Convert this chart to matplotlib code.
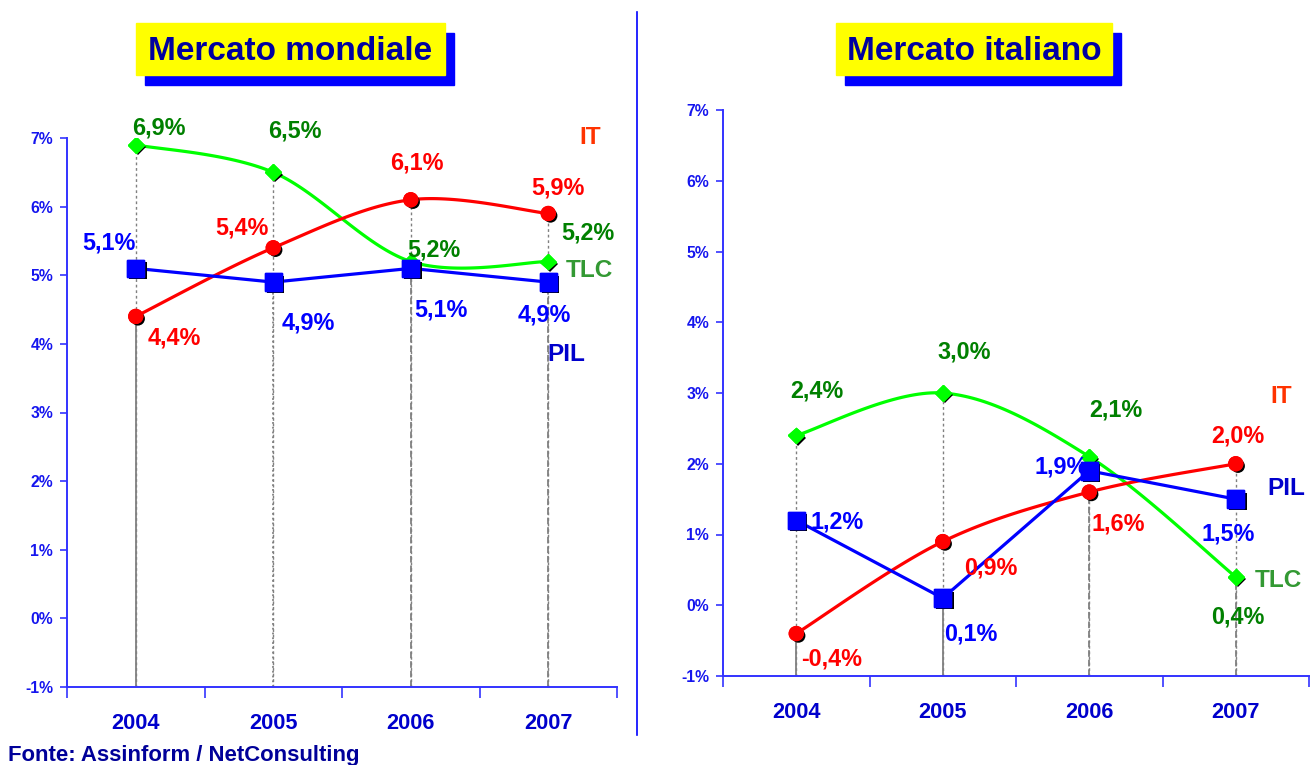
import matplotlib
matplotlib.use("Agg")
import matplotlib.pyplot as plt
import matplotlib.patheffects as pe
from matplotlib.patches import Rectangle
import numpy as np

plt.rcParams["font.family"] = ["Liberation Sans", "DejaVu Sans"]
plt.rcParams["font.weight"] = "bold"

years = ["2004", "2005", "2006", "2007"]

# Mercato mondiale
world_it = [4.4, 5.4, 6.1, 5.9]
world_tlc = [6.9, 6.5, 5.2, 5.2]
world_pil = [5.1, 4.9, 5.1, 4.9]

# Mercato italiano
ita_it = [-0.4, 0.9, 1.6, 2.0]
ita_tlc = [2.4, 3.0, 2.1, 0.4]
ita_pil = [1.2, 0.1, 1.9, 1.5]

C_IT, C_TLC, C_PIL = "#FF0000", "#00FF00", "#0000FF"
L_IT, L_TLC, L_PIL = "#FF0000", "#008000", "#0000FF"
N_IT, N_TLC, N_PIL = "#FF3300", "#339933", "#0000CC"
AX_BLUE = "#3333FF"
TXT_BLUE = "#0000CC"


def smooth(y, n=40):
    # Catmull-Rom curve through the points (like Excel smoothed lines)
    x = np.arange(len(y), dtype=float)
    p = np.column_stack([x, np.asarray(y, float)])
    p = np.vstack([p[0], p, p[-1]])
    t = np.linspace(0, 1, n)[:, None]
    segs = []
    for i in range(1, len(p) - 2):
        p0, p1, p2, p3 = p[i - 1], p[i], p[i + 1], p[i + 2]
        segs.append(0.5 * (2 * p1 + (-p0 + p2) * t
                           + (2 * p0 - 5 * p1 + 4 * p2 - p3) * t ** 2
                           + (-p0 + 3 * p1 - 3 * p2 + p3) * t ** 3))
    s = np.vstack(segs)
    return s[:, 0], s[:, 1]


shadow = [pe.withSimplePatchShadow(offset=(1.6, -1.6), shadow_rgbFace="black", alpha=1.0), pe.Normal()]


def draw_panel(ax, it, tlc, pil, low_styles, offs, names):
    x = np.arange(4)
    ax.set_xlim(-0.5, 3.5)
    ax.set_ylim(-1, 7)
    # drop lines
    for i in range(4):
        vals = [it[i], tlc[i], pil[i]]
        ax.vlines(i, -1, max(vals), colors="#808080", lw=1, linestyles=(0, (2, 2)), zorder=1)
        ax.vlines(i, -1, min(vals), colors="#808080", lw=1.3, linestyles=low_styles[i], zorder=1)
    sx, sy = smooth(tlc)
    ax.plot(sx, sy, color=C_TLC, lw=2.3, zorder=3)
    sx, sy = smooth(it)
    ax.plot(sx, sy, color=C_IT, lw=2.3, zorder=3)
    ax.plot(x, pil, color=C_PIL, lw=2.3, zorder=3)
    ax.plot(x, tlc, ls="none", marker="D", ms=8, color=C_TLC, mec=C_TLC, zorder=4, path_effects=shadow)
    ax.plot(x, it, ls="none", marker="o", ms=10, color=C_IT, mec=C_IT, zorder=4, path_effects=shadow)
    ax.plot(x, pil, ls="none", marker="s", ms=12.5, color=C_PIL, mec=C_PIL, zorder=5, path_effects=shadow)

    for vals, col, key in [(tlc, L_TLC, "tlc"), (it, L_IT, "it"), (pil, L_PIL, "pil")]:
        for i, v in enumerate(vals):
            dx, dy = offs[key][i]
            ax.annotate(f"{v:.1f}%".replace(".", ","), (i, v), xytext=(dx * 0.72, -dy * 0.72),
                        textcoords="offset points", ha="center", va="center",
                        color=col, fontsize=16.8, fontweight="bold", zorder=6)
    for txt, col, (fx, fy) in names:
        ax.text(fx, fy, txt, transform=ax.transAxes, color=col, fontsize=17.6, fontweight="bold",
                ha="center", va="center", clip_on=False)

    for s in ["top", "right"]:
        ax.spines[s].set_visible(False)
    for s in ["left", "bottom"]:
        ax.spines[s].set_color(AX_BLUE)
        ax.spines[s].set_linewidth(1.4)
    ax.set_yticks(range(-1, 8))
    ax.set_yticklabels([f"{v}%" for v in range(-1, 8)])
    ax.tick_params(axis="y", colors=AX_BLUE, labelcolor="#1515EE", labelsize=11.3, length=5, width=1.2, pad=5)
    ax.set_xticks(np.arange(-0.5, 4, 1.0))
    ax.set_xticklabels([])
    ax.set_xticks(x, minor=True)
    ax.set_xticklabels(years, minor=True)
    ax.tick_params(axis="x", which="major", colors=AX_BLUE, length=8, width=1.2)
    ax.tick_params(axis="x", which="minor", length=0, labelcolor=TXT_BLUE, labelsize=15.7, pad=19)
    for lab in ax.get_xticklabels(minor=True) + ax.get_yticklabels():
        lab.set_fontweight("bold")


fig = plt.figure(figsize=(13.1, 7.65), dpi=100)
ax1 = fig.add_axes([67 / 1310, 1 - 687 / 765, 550 / 1310, 549 / 765])
ax2 = fig.add_axes([723 / 1310, 1 - 676 / 765, 586 / 1310, 566 / 765])

offs_world = {
    "tlc": [(23, -17), (22, -41), (23, -12), (40, -29)],
    "it": [(39, 22), (-31, -20), (6, -37), (10, -25)],
    "pil": [(-27, -25), (35, 41), (30, 42), (-4, 33)],
}
offs_ita = {
    "tlc": [(21, -44), (21, -41), (27, -47), (2, 40)],
    "it": [(35, 25), (48, 26), (29, 32), (2, -28)],
    "pil": [(41, 2), (28, 36), (-28, -4), (-8, 35)],
}
draw_panel(ax1, world_it, world_tlc, world_pil, ["-", ":", "--", "--"], offs_world,
           [("IT", N_IT, (0.951, 1.0)), ("TLC", N_TLC, (0.949, 0.758)), ("PIL", N_PIL, (0.907, 0.605))])
draw_panel(ax2, ita_it, ita_tlc, ita_pil, ["-", "-", "--", "--"], offs_ita,
           [("IT", N_IT, (0.952, 0.493)), ("PIL", N_PIL, (0.961, 0.332)), ("TLC", N_TLC, (0.947, 0.168))])

# title boxes with shadow
W, H = 1310, 765
for (x0, x1), title in [((136, 445), "Mercato mondiale"), ((836, 1112), "Mercato italiano")]:
    fig.patches.append(Rectangle(((x0 + 9) / W, 1 - 85 / H), (x1 - x0) / W, 52 / H,
                                 transform=fig.transFigure, color="#0000FF", zorder=0))
    fig.patches.append(Rectangle((x0 / W, 1 - 75 / H), (x1 - x0) / W, 52 / H,
                                 transform=fig.transFigure, color="#FFFF00", zorder=1))
    fig.text((x0 + x1) / 2 / W, 1 - 52 / H, title, ha="center", va="center",
             fontsize=24, fontweight="bold", color="#0000A0", zorder=2)

# separator
fig.add_artist(plt.Line2D([637 / W, 637 / W], [1 - 735 / H, 1 - 12 / H], color="#0000FF", lw=1.2))

fig.text(8 / W, 1 - 755 / H, "Fonte: Assinform / NetConsulting", ha="left", va="center",
         fontsize=15.9, fontweight="bold", color="#000099")

fig.savefig("out.png", dpi=100)
